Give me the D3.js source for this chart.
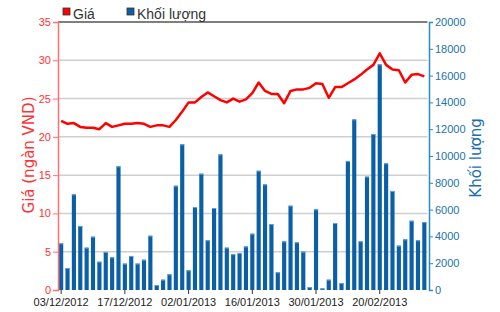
<!DOCTYPE html>
<html lang="vi">
<head>
<meta charset="UTF-8">
<title>Giá - Khối lượng</title>
<script src="https://d3js.org/d3.v7.min.js"></script>
<style>
    body { margin: 0; background: #fff; }
    svg { display: block; }
    .tick text { font-family: "Liberation Sans Narrow", "Liberation Sans", Arial, sans-serif; font-size: 11px; }
    .legend { font-family: "Liberation Sans", Arial, sans-serif; font-size: 14px; fill: #333; }
    .atitle { font-family: "DejaVu Sans", Verdana, sans-serif; font-size: 15px; }
</style>
</head>
<body>
<svg id="chart" width="500" height="312"></svg>
<script>
// trading days
let dates = ["03/12/2012","04/12/2012","05/12/2012","06/12/2012","07/12/2012","10/12/2012","11/12/2012","12/12/2012","13/12/2012","14/12/2012",
    "17/12/2012","18/12/2012","19/12/2012","20/12/2012","21/12/2012","24/12/2012","25/12/2012","26/12/2012","27/12/2012","28/12/2012",
    "02/01/2013","03/01/2013","04/01/2013","07/01/2013","08/01/2013","09/01/2013","10/01/2013","11/01/2013","14/01/2013","15/01/2013",
    "16/01/2013","17/01/2013","18/01/2013","21/01/2013","22/01/2013","23/01/2013","24/01/2013","25/01/2013","28/01/2013","29/01/2013",
    "30/01/2013","31/01/2013","01/02/2013","04/02/2013","05/02/2013","06/02/2013","07/02/2013","08/02/2013","18/02/2013","19/02/2013",
    "20/02/2013","21/02/2013","22/02/2013","25/02/2013","26/02/2013","27/02/2013","28/02/2013","01/03/2013"]

// Khối lượng
let volume = [3480,1640,7140,4780,3160,3980,2110,2840,2440,9230,
    1970,2540,1970,2260,4050,370,770,1170,7780,10870,
    1470,6190,8680,3710,6120,10120,3160,2670,2750,3250,
    4200,8900,7880,4920,1320,3630,6290,3560,2860,220,
    6020,120,770,5000,520,9630,12730,3630,8460,11640,
    16840,9450,7390,3310,3780,5170,3710,5070]

// Giá (ngàn VND)
let price = [22.1,21.7,21.8,21.3,21.2,21.2,21.0,21.8,21.3,21.5,
    21.7,21.7,21.8,21.7,21.3,21.5,21.5,21.3,22.2,23.3,
    24.5,24.5,25.2,25.8,25.3,24.8,24.5,25.0,24.6,24.9,
    25.7,27.1,26.0,25.6,25.6,24.4,26.0,26.2,26.2,26.4,
    27.0,26.9,25.1,26.5,26.5,27.0,27.5,28.1,28.8,29.4,
    30.9,29.4,28.8,28.7,27.1,28.1,28.2,27.9]

let priceTicks = [0,5,10,15,20,25,30,35]
let volTicks = [0,2000,4000,6000,8000,10000,12000,14000,16000,18000,20000]
let xTickDates = ["03/12/2012","17/12/2012","02/01/2013","16/01/2013","30/01/2013","20/02/2013"]

let red = "#ff0000"
let blue = "#0b5fa6"
let plotL = 58, plotR = 427.5, plotT = 22, plotB = 290

let svg = d3.select("#chart")

let x = d3.scaleBand().domain(dates).range([plotL, plotR]).paddingInner(0.35).paddingOuter(0.17)
let yP = d3.scaleLinear().domain([0, 35]).range([plotB, plotT])
let yV = d3.scaleLinear().domain([0, 20000]).range([plotB, plotT])

// grid lines
svg.append("g").selectAll("line")
    .data(priceTicks.filter(d => d > 0 && d < 35))
    .enter().append("line")
    .attr("x1", plotL).attr("x2", plotR)
    .attr("y1", d => yP(d)).attr("y2", d => yP(d))
    .attr("stroke", "#cfcfcf").attr("stroke-width", 1.5)

// top border
svg.append("line")
    .attr("x1", plotL).attr("x2", plotR)
    .attr("y1", yP(35)).attr("y2", yP(35))
    .attr("stroke", "#555").attr("stroke-width", 1.5)

// bars
let bars = svg.append("g")
bars.selectAll("rect")
    .data(volume)
    .enter().append("rect")
    .attr("x", (d, i) => x(dates[i]))
    .attr("width", x.bandwidth())
    .attr("y", d => yV(d))
    .attr("height", d => plotB - yV(d))
    .attr("fill", blue)
bars.selectAll("line")
    .data(volume)
    .enter().append("line")
    .attr("x1", (d, i) => x(dates[i]))
    .attr("x2", (d, i) => x(dates[i]) + x.bandwidth())
    .attr("y1", d => yV(d) + 0.5).attr("y2", d => yV(d) + 0.5)
    .attr("stroke", "#5fa3dc").attr("stroke-width", 1)

// price line
let line = d3.line()
    .x((d, i) => x(dates[i]) + x.bandwidth() / 2)
    .y(d => yP(d))
svg.append("path")
    .datum(price)
    .attr("d", line)
    .attr("fill", "none")
    .attr("stroke", red)
    .attr("stroke-width", 2.5)
    .attr("stroke-linejoin", "round")

// left axis
let axL = svg.append("g")
    .attr("transform", `translate(${plotL},0)`)
    .call(d3.axisLeft(yP).tickValues(priceTicks).tickSize(5).tickPadding(2))
axL.select(".domain").attr("stroke", "#ff7070").attr("stroke-width", 1.5)
axL.selectAll(".tick line").attr("stroke", "#ff7070")
axL.selectAll(".tick text").attr("fill", "#ff3333")

// right axis
let axR = svg.append("g")
    .attr("transform", `translate(${plotR + 1.5},0)`)
    .call(d3.axisRight(yV).tickValues(volTicks).tickFormat(d3.format("d")).tickSize(4).tickPadding(2))
axR.select(".domain").attr("stroke", "#2a8ac4").attr("stroke-width", 1.5)
axR.selectAll(".tick line").attr("stroke", "#2a8ac4")
axR.selectAll(".tick text").attr("fill", "#2272aa")

// bottom axis
let axB = svg.append("g")
    .attr("transform", `translate(0,${plotB})`)
    .call(d3.axisBottom(x).tickValues(xTickDates).tickSize(4).tickPadding(4))
axB.select(".domain").remove()
axB.selectAll(".tick line").attr("stroke", "#333")
axB.selectAll(".tick text").attr("fill", "#222")

// axis titles
svg.append("text")
    .attr("class", "atitle")
    .attr("transform", "translate(34,155) rotate(-90)")
    .attr("text-anchor", "middle")
    .attr("fill", "#ff3333")
    .text("Giá (ngàn VND)")
svg.append("text")
    .attr("class", "atitle")
    .attr("transform", "translate(481,158) rotate(-90)")
    .attr("text-anchor", "middle")
    .attr("fill", "#1a6fae")
    .text("Khối lượng")

// legend
let legend = [["Giá", red, 63], ["Khối lượng", blue, 127]]
legend.forEach(l => {
    svg.append("rect")
        .attr("x", l[2]).attr("y", 8).attr("width", 7).attr("height", 7)
        .attr("fill", l[1]).attr("stroke", "#333").attr("stroke-width", 0.8)
    svg.append("text")
        .attr("class", "legend")
        .attr("x", l[2] + 10).attr("y", 19)
        .text(l[0])
})
</script>
</body>
</html>
